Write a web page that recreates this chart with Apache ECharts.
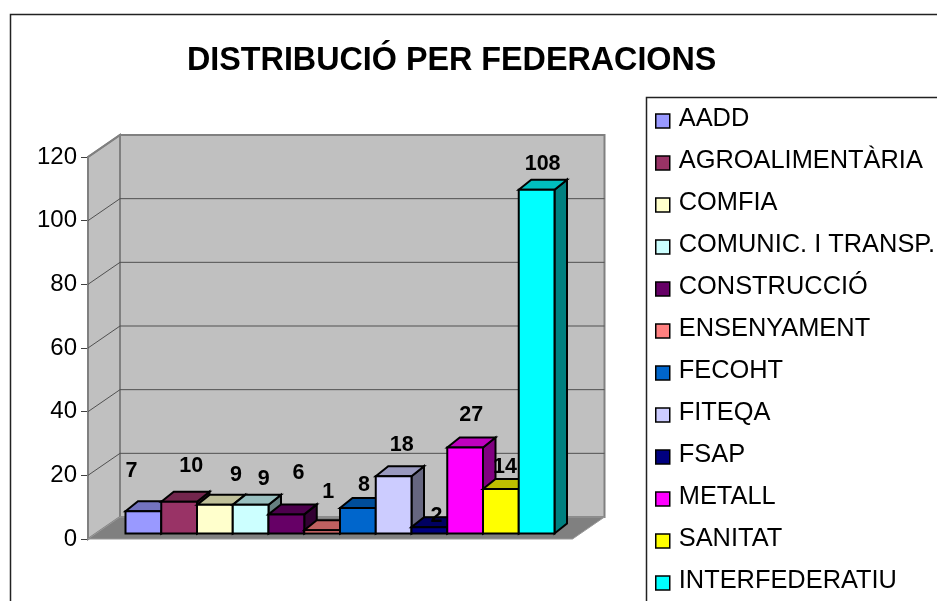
<!DOCTYPE html>
<html>
<head>
<meta charset="utf-8">
<style>html,body{margin:0;padding:0;background:#fff;overflow:hidden}#c{width:937px;height:601px}</style>
<script src="https://cdn.jsdelivr.net/npm/echarts@6/dist/echarts.min.js"></script>
</head>
<body>
<div id="c"></div>
<script>
var FEDERACIONS = ['AADD','AGROALIMENTÀRIA','COMFIA','COMUNIC. I TRANSP.','CONSTRUCCIÓ','ENSENYAMENT','FECOHT','FITEQA','FSAP','METALL','SANITAT','INTERFEDERATIU'];
var VALUES = [7,10,9,9,6,1,8,18,2,27,14,108];
var COLORS = ['#9999FF','#993366','#FFFFCC','#CCFFFF','#660066','#FF8080','#0066CC','#CCCCFF','#000080','#FF00FF','#FFFF00','#00FFFF'];
var Y_TICKS = [0,20,40,60,80,100,120];
var TITLE = 'DISTRIBUCIÓ PER FEDERACIONS';
// label placement relative to the bar's top-centre, in pixels (as positioned in the source)
var LABEL_DX = [-12,12,21,13,12,6,6,8,7,6,4,6];
var LABEL_DY = [-40,-36,-30,-26,-41,-38,-23,-31,-11,-32,-22,-26];

var FONT = '"Liberation Sans", Arial, sans-serif';
var WALL_DX = 32, WALL_DY = -22, LEFT_GAP = 37.5, RIGHT_GAP = 18;
var BAR_SHIFT_Y = -5.5, BAR_DX = 12.5, BAR_DY = -10;

function shade(hex, k) {
  var n = parseInt(hex.slice(1), 16);
  var r = Math.round((n >> 16 & 255) * k), g = Math.round((n >> 8 & 255) * k), b = Math.round((n & 255) * k);
  return 'rgb(' + r + ',' + g + ',' + b + ')';
}

function renderWalls(params, api) {
  var rect = params.coordSys;
  var x0 = rect.x - LEFT_GAP;
  var x1 = rect.x + rect.width + RIGHT_GAP;
  var p = api.coord([0, api.value(0)]);
  var y = p[1];
  var children = [];
  var topY = rect.y, botY = rect.y + rect.height;
  if (params.dataIndex === 0) {
    children.push({type:'polygon', shape:{points:[[x0,topY],[x0+WALL_DX,topY+WALL_DY],[x0+WALL_DX,botY+WALL_DY],[x0,botY]]},
      style:{fill:'#C0C0C0', stroke:'#808080', lineWidth:2}});
    children.push({type:'polygon', shape:{points:[[x0+WALL_DX,topY+WALL_DY],[x1+WALL_DX,topY+WALL_DY],[x1+WALL_DX,botY+WALL_DY],[x0+WALL_DX,botY+WALL_DY]]},
      style:{fill:'#C0C0C0', stroke:'#808080', lineWidth:2}});
    children.push({type:'polygon', shape:{points:[[x0,botY],[x1,botY],[x1+WALL_DX,botY+WALL_DY],[x0+WALL_DX,botY+WALL_DY]]},
      style:{fill:'#808080', stroke:'#999999', lineWidth:1}});
  } else if (api.value(0) < 120) {
    children.push({type:'polyline', shape:{points:[[x0,y],[x0+WALL_DX,y+WALL_DY],[x1+WALL_DX,y+WALL_DY]]},
      style:{fill:'none', stroke:'#505050', lineWidth:1}, z2:1});
  } else {
    children.push({type:'line', shape:{x1:x0,y1:y,x2:x0+WALL_DX,y2:y+WALL_DY},
      style:{stroke:'#808080', lineWidth:2}, z2:1});
  }
  return {type:'group', children:children};
}

function renderBar(params, api) {
  var idx = api.value(0);
  var c = COLORS[idx];
  var band = api.size([1, 0])[0];
  var centre = api.coord([idx, api.value(1)]);
  var base = api.coord([idx, 0]);
  var l = centre[0] - band / 2, r = centre[0] + band / 2;
  var t = centre[1] + BAR_SHIFT_Y, b = base[1] + BAR_SHIFT_Y;
  var stroke = {stroke:'#000', lineWidth:2, lineJoin:'miter'};
  return {type:'group', children:[
    {type:'polygon', shape:{points:[[r,t],[r+BAR_DX,t+BAR_DY],[r+BAR_DX,b+BAR_DY],[r,b]]},
      style:Object.assign({fill:shade(c,0.5)}, stroke)},
    {type:'polygon', shape:{points:[[l,t],[l+BAR_DX,t+BAR_DY],[r+BAR_DX,t+BAR_DY],[r,t]]},
      style:Object.assign({fill:shade(c,0.75)}, stroke)},
    {type:'rect', shape:{x:l,y:t,width:r-l,height:b-t},
      style:Object.assign({fill:c}, stroke)},
    {type:'text', z2:50, style:{text:String(api.value(1)),
      x:centre[0]+LABEL_DX[idx], y:t+LABEL_DY[idx], align:'center', verticalAlign:'middle',
      fill:'#000', font:'bold 21.5px ' + FONT}}
  ]};
}

var series = [{
  type:'custom', name:'walls', silent:true, renderItem:renderWalls, z:1,
  data:Y_TICKS.map(function(v){return [v];}), encode:{y:0}, legendHoverLink:false
}];
FEDERACIONS.forEach(function(name, i){
  series.push({
    type:'custom', name:name, renderItem:renderBar, z:2,
    itemStyle:{color:COLORS[i]},
    data:[[i, VALUES[i]]], encode:{x:0, y:1}
  });
});

var chart = echarts.init(document.getElementById('c'), null, {renderer:'canvas'});
chart.setOption({
  animation:false,
  backgroundColor:'#fff',
  textStyle:{fontFamily:FONT},
  title:{text:TITLE, left:182, top:40,
    textStyle:{fontFamily:FONT, fontWeight:'bold', fontSize:32.3, color:'#000'}},
  grid:{left:125.5, top:157, width:429, height:382},
  xAxis:{type:'category', data:FEDERACIONS, show:false},
  yAxis:{type:'value', min:0, max:120, interval:20, offset:LEFT_GAP,
    axisLine:{show:true, lineStyle:{color:'#404040', width:2}},
    axisTick:{show:true, length:7, lineStyle:{color:'#404040', width:1}},
    axisLabel:{fontSize:24, color:'#000', fontFamily:FONT, margin:11},
    splitLine:{show:false}},
  legend:{orient:'vertical', left:655, top:104, height:560, width:300,
    data:FEDERACIONS, icon:'rect', itemWidth:14, itemHeight:14, itemGap:8,
    itemStyle:{borderColor:'#000', borderWidth:1.5},
    selectedMode:false, padding:0,
    formatter:'{t|{name}}',
    textStyle:{fontSize:25.4, color:'#000', fontFamily:FONT,
      rich:{t:{fontSize:25.4, color:'#000', fontFamily:FONT, lineHeight:29, height:29, padding:[0,0,5,4]}}}},
  graphic:[
    {type:'rect', z:-10, silent:true, shape:{x:10.5,y:14.5,width:1000,height:700},
      style:{fill:'none', stroke:'#222', lineWidth:1.5}},
    {type:'rect', z:-10, silent:true, shape:{x:646.5,y:97.5,width:400,height:600},
      style:{fill:'none', stroke:'#222', lineWidth:1.5}}
  ],
  series:series
});
</script>
</body>
</html>
